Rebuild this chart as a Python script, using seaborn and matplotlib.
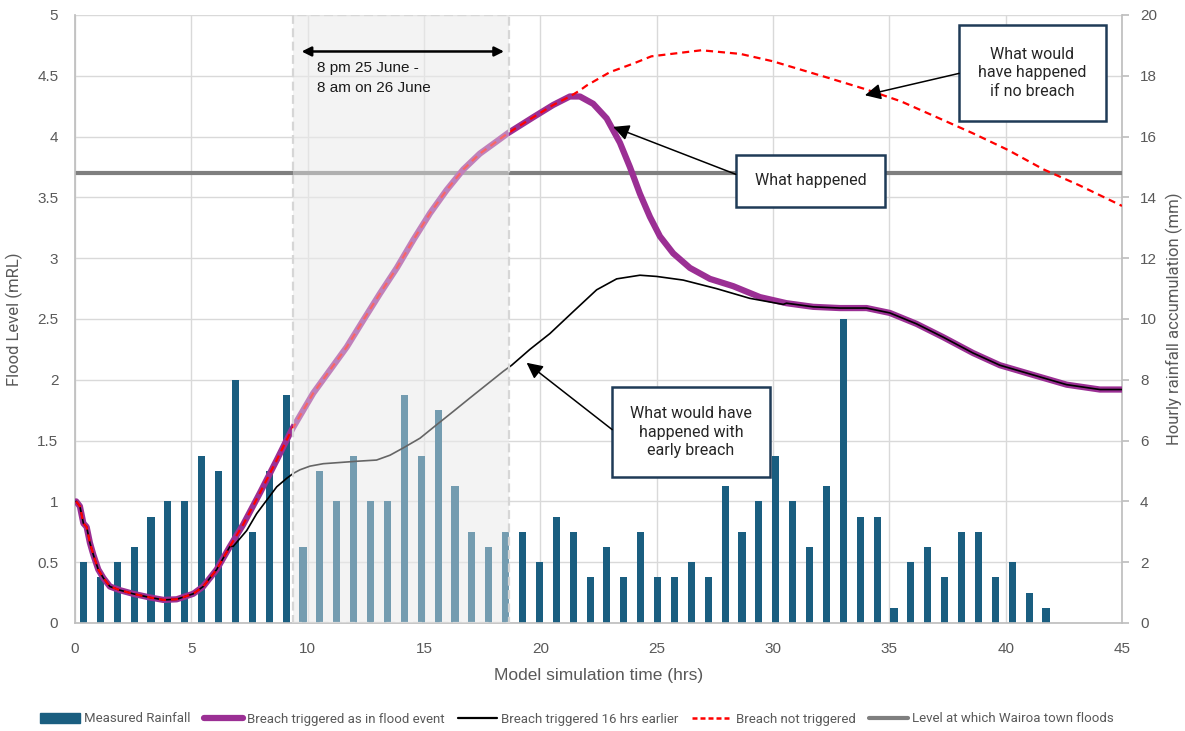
import matplotlib
matplotlib.use("Agg")
import matplotlib.pyplot as plt
import seaborn as sns
from matplotlib.patches import Rectangle, Patch
from matplotlib.lines import Line2D
from matplotlib import font_manager

# ---------------- data ----------------
# hourly rainfall (mm), one bar per rainfall slot
rain_mm = [2, 1.5, 2, 2.5, 3.5, 4, 4, 5.5, 5, 8,
           3, 5, 7.5, 2.5, 5, 4, 5.5, 4, 4, 7.5,
           5.5, 7, 4.5, 3, 2.5, 3, 3, 2, 3.5, 3,
           1.5, 2.5, 1.5, 3, 1.5, 1.5, 2, 1.5, 4.5, 3,
           4, 5.5, 4, 2.5, 4.5, 10, 3.5, 3.5, 0.5, 2,
           2.5, 1.5, 3, 3, 1.5, 2, 1, 0.5]
n_slots = 62          # rainfall slots spanning the 45 hr window
sim_hours = 45

# common start of all model runs (hrs, mRL)
t_start = [0.05, 0.21, 0.36, 0.5, 0.64, 0.79, 1.0, 1.22, 1.5, 1.93, 2.5, 3.22,
           3.8, 4.37, 5.08, 5.51, 6.09, 6.66]
lv_start = [1.0, 0.96, 0.82, 0.79, 0.66, 0.56, 0.44, 0.37, 0.30, 0.27, 0.24, 0.21,
            0.19, 0.195, 0.24, 0.30, 0.44, 0.63]

# rise shared by "as in flood event" and "not triggered"
t_rise = [7.23, 7.95, 8.67, 9.24, 9.38, 10.24, 10.96, 11.68, 12.39, 13.11, 13.83,
          14.54, 15.26, 15.97, 16.69, 17.40, 18.12, 18.62, 19.7, 20.55, 21.27]
lv_rise = [0.81, 1.07, 1.34, 1.56, 1.61, 1.89, 2.08, 2.27, 2.49, 2.71, 2.92,
           3.15, 3.37, 3.56, 3.73, 3.86, 3.96, 4.03, 4.16, 4.26, 4.33]

# breach as in flood event: recession after the peak
t_event = [21.7, 22.27, 22.85, 23.42, 23.85, 24.28, 24.71, 25.14, 25.71, 26.43,
           27.29, 28.29, 29.44]
lv_event = [4.33, 4.27, 4.15, 3.95, 3.75, 3.53, 3.34, 3.18, 3.04, 2.92,
            2.83, 2.77, 2.68]

# tail shared by both breach runs
t_tail = [30.58, 31.73, 32.87, 34.02, 35.02, 36.17, 37.32, 38.6, 39.75, 41.18,
          42.62, 44.05, 45.0]
lv_tail = [2.63, 2.60, 2.59, 2.59, 2.55, 2.46, 2.35, 2.22, 2.12, 2.04,
           1.96, 1.92, 1.92]

# breach not triggered
t_nobreach = [21.7, 21.99, 22.99, 23.99, 24.77, 26.92, 28.60, 29.98, 32.43, 33.97,
              35.50, 37.03, 38.56, 40.10, 41.63, 43.16, 45.0]
lv_nobreach = [4.38, 4.42, 4.53, 4.60, 4.66, 4.71, 4.68, 4.62, 4.48, 4.39,
               4.29, 4.16, 4.03, 3.89, 3.73, 3.60, 3.43]

# breach triggered 16 hrs earlier
t_early = [6.8, 7.38, 7.81, 8.24, 8.67, 9.1, 9.38, 9.67, 10.1, 10.67, 11.39, 12.1,
           12.96, 13.54, 14.11, 14.83, 15.54, 16.26, 16.97, 17.69, 18.41, 18.77,
           19.55, 20.41, 21.41, 22.42, 23.28, 24.28, 25.0, 26.14, 27.57, 29.0, 30.44]
lv_early = [0.63, 0.76, 0.90, 1.01, 1.12, 1.19, 1.23, 1.26, 1.29, 1.31, 1.32, 1.33,
            1.34, 1.38, 1.44, 1.52, 1.63, 1.74, 1.85, 1.96, 2.07, 2.12,
            2.25, 2.38, 2.56, 2.74, 2.83, 2.86, 2.85, 2.82, 2.75, 2.67, 2.62]

flood_level = 3.7
window = (9.37, 18.65)   # 8 pm 25 June - 8 am 26 June

# ---------------- series ----------------
bar_t = [(i + 0.5) * sim_hours / n_slots for i in range(len(rain_mm))]
event_t = t_start + t_rise + t_event + t_tail
event_lv = lv_start + lv_rise + lv_event + lv_tail
nob_t = t_start + t_rise + t_nobreach
nob_lv = lv_start + lv_rise + lv_nobreach
early_t = t_start + t_early + t_tail
early_lv = lv_start + lv_early + lv_tail

# ---------------- style ----------------
sns.set_theme(style="white")
avail = {f.name for f in font_manager.fontManager.ttflist}
narrow = "Liberation Sans Narrow" if "Liberation Sans Narrow" in avail else "Roboto"
plt.rcParams["font.family"] = ["Liberation Sans", "DejaVu Sans"]

BAR = "#1A5E80"
PURPLE = "#9B2F94"
GREY_TXT = "#595959"
AXIS = "#BFBFBF"
GRID = "#D9D9D9"
BOX_EDGE = "#1F3B57"

fig = plt.figure(figsize=(11.85, 7.31), dpi=100)
ax = fig.add_axes([75 / 1185, 1 - 623 / 731, 1047 / 1185, 608 / 731])
ax2 = ax.twinx()
ax.set_zorder(2)
ax2.set_zorder(1)
ax.patch.set_visible(False)
ax2.patch.set_visible(True)
ax2.patch.set_facecolor("white")

# window background (beneath the grid and bars)
ax2.add_patch(Rectangle((window[0], 0), window[1] - window[0], 20,
                        facecolor="#F3F3F3", edgecolor="none", zorder=0.3))

# rainfall bars on the right-hand axis
sns.barplot(x=bar_t, y=rain_mm, native_scale=True, width=0.42, color=BAR,
            saturation=1, ax=ax2, zorder=2, linewidth=0)
ax2.set_ylim(0, 20)
ax2.set_yticks(range(0, 21, 2))
ax2.xaxis.set_visible(True)
ax2.set_xlim(0, sim_hours)
ax2.set_xticks(range(0, 46, 5))
ax2.tick_params(axis="x", labelbottom=False, length=0)
ax2.grid(axis="both", color=GRID, lw=1)
ax2.set_axisbelow(True)

# flood levels on the left-hand axis
ax.axhline(flood_level, color="#7F7F7F", lw=3, zorder=2)
sns.lineplot(x=event_t, y=event_lv, color=PURPLE, lw=4.5, ax=ax, zorder=3,
             solid_capstyle="round")
sns.lineplot(x=early_t, y=early_lv, color="black", lw=1.2, ax=ax, zorder=4)
sns.lineplot(x=nob_t, y=nob_lv, color="#FF0000", lw=1.6, ax=ax, zorder=5,
             linestyle=(0, (3.2, 2.2)))

ax.set_xlim(0, sim_hours)
ax.set_ylim(0, 5)
ax.set_xticks(range(0, 46, 5))
ax.set_yticks([0, 0.5, 1, 1.5, 2, 2.5, 3, 3.5, 4, 4.5, 5])
ax.set_yticklabels(["0", "0.5", "1", "1.5", "2", "2.5", "3", "3.5", "4", "4.5", "5"])

# breach window: translucent veil over the marks, dashed outline
ax.add_patch(Rectangle((window[0], 0), window[1] - window[0], 5,
                       facecolor="#F3F3F3", alpha=0.42, edgecolor="none", zorder=6))
ax.add_patch(Rectangle((window[0], 0), window[1] - window[0], 5,
                       facecolor="none", edgecolor="#D6D6D6", lw=1.6,
                       linestyle=(0, (4, 2)), zorder=6.5))
ax.annotate("", xy=(9.74, 4.70), xytext=(18.44, 4.70),
            arrowprops=dict(arrowstyle="<|-|>", color="black", lw=1.8,
                            mutation_scale=14, shrinkA=0, shrinkB=0), zorder=7)
ax.text(10.39, 4.62, "8 pm 25 June -\n8 am on 26 June", ha="left", va="top",
        fontsize=11, color="#1A1A1A", linespacing=1.55, zorder=7)

# ticks / spines
for a in (ax, ax2):
    for s in a.spines.values():
        s.set_visible(False)
ax.spines["left"].set_visible(True)
ax.spines["left"].set_color(AXIS)
ax.spines["bottom"].set_visible(True)
ax.spines["bottom"].set_color(AXIS)
ax2.spines["right"].set_visible(True)
ax2.spines["right"].set_color(AXIS)
ax.tick_params(axis="both", length=0, labelsize=11, labelcolor=GREY_TXT)
ax.tick_params(axis="x", pad=14)
ax.tick_params(axis="y", pad=12)
ax2.tick_params(axis="y", length=5, color=AXIS, labelsize=11,
                labelcolor=GREY_TXT, pad=8, direction="out")

ax.set_xlabel("Model simulation time (hrs)", fontsize=12.5, color=GREY_TXT,
              labelpad=8)
ax.set_ylabel("Flood Level (mRL)", fontsize=12, color=GREY_TXT,
              family=[narrow, "DejaVu Sans"], labelpad=10)
ax2.set_ylabel("Hourly rainfall accumulation (mm)", fontsize=12, color=GREY_TXT,
               family=[narrow, "DejaVu Sans"], labelpad=6)


# callout boxes
def callout(x0, y0, x1, y1, text, head, tail):
    ax.add_patch(Rectangle((x0, y0), x1 - x0, y1 - y0, facecolor="white",
                           edgecolor=BOX_EDGE, lw=1.8, zorder=8))
    ax.text((x0 + x1) / 2, (y0 + y1) / 2, text, ha="center", va="center",
            fontsize=11.5, color="#262626", linespacing=1.3, zorder=9,
            family=[narrow, "DejaVu Sans"])
    ax.annotate("", xy=head, xytext=tail,
                arrowprops=dict(arrowstyle="-|>", color="black", lw=1.1,
                                mutation_scale=24, shrinkA=0, shrinkB=0), zorder=8)


callout(38.0, 4.13, 44.3, 4.92, "What would\nhave happened\nif no breach",
        head=(33.95, 4.34), tail=(38.0, 4.52))
callout(28.4, 3.42, 34.83, 3.85, "What happened",
        head=(23.13, 4.08), tail=(28.4, 3.69))
callout(23.09, 1.20, 29.87, 1.94, "What would have\nhappened with\nearly breach",
        head=(19.41, 2.14), tail=(23.09, 1.59))

# legend
handles = [
    Patch(facecolor=BAR, edgecolor=BAR),
    Line2D([], [], color=PURPLE, lw=4.5),
    Line2D([], [], color="black", lw=1.6),
    Line2D([], [], color="#FF0000", lw=1.8, linestyle=(0, (2, 1.2))),
    Line2D([], [], color="#7F7F7F", lw=3),
]
labels = ["Measured Rainfall", "Breach triggered as in flood event",
          "Breach triggered 16 hrs earlier", "Breach not triggered",
          "Level at which Wairoa town floods"]
leg = fig.legend(handles, labels, ncol=5, loc="center",
                 bbox_to_anchor=(0.487, 1 - 719 / 731), frameon=False,
                 handlelength=3.0, handletextpad=0.3, columnspacing=1.0,
                 prop={"family": [narrow, "DejaVu Sans"], "size": 9.5})
for t in leg.get_texts():
    t.set_color(GREY_TXT)

fig.savefig("out.png", dpi=100)
